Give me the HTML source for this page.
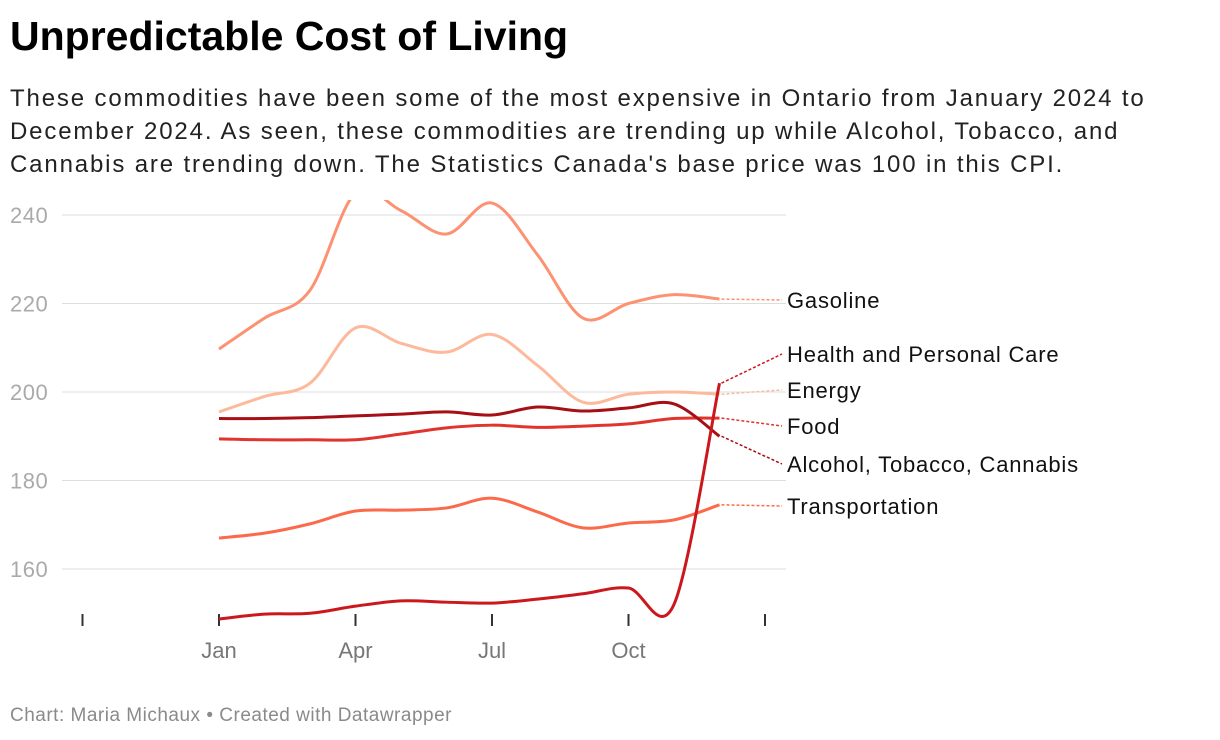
<!DOCTYPE html>
<html><head><meta charset="utf-8">
<style>
body{margin:0;background:#fff;width:1220px;height:740px;overflow:hidden;font-family:"Liberation Sans",sans-serif;}
h1{position:absolute;left:10px;top:13px;margin:0;font-size:41px;font-weight:bold;color:#000;letter-spacing:0px}
p.sub{position:absolute;left:10px;top:82px;margin:0;font-size:24px;line-height:33px;color:#222;width:1180px;letter-spacing:1.85px}
.foot{position:absolute;left:10px;top:705px;font-size:19px;color:#8a8a8a;letter-spacing:0.5px}
svg{position:absolute;left:0;top:0}
</style></head><body>
<h1>Unpredictable Cost of Living</h1>
<p class="sub">These commodities have been some of the most expensive in Ontario from January 2024 to December 2024. As seen, these commodities are trending up while Alcohol, Tobacco, and Cannabis are trending down. The Statistics Canada's base price was 100 in this CPI.</p>
<svg id="chart" width="1220" height="740"></svg>
<div class="foot">Chart: Maria Michaux • Created with Datawrapper</div>
<script>
const months = ["Jan","Feb","Mar","Apr","May","Jun","Jul","Aug","Sep","Oct","Nov","Dec"];
const yTicks = [160,180,200,220,240];
const xTickLabels = ["Jan","Apr","Jul","Oct"];
const gasoline = [209.7,216.7,223,245,241,235.7,242.7,231,216.7,220,222,221];
const energy = [195.5,199,202,214.5,211,209,213,206,197.7,199.5,200,199.5];
const alcohol = [194,194,194.2,194.6,195,195.5,194.8,196.6,195.7,196.4,197.3,190];
const food = [189.4,189.2,189.2,189.2,190.5,191.9,192.5,192,192.3,192.8,194,194.1];
const transportation = [167,168.1,170.2,173.1,173.3,173.8,176,172.9,169.3,170.4,171.1,174.5];
const health = [148.7,149.8,150,151.6,152.8,152.5,152.3,153.2,154.4,155.7,152,202];
const seriesNames = ["Gasoline","Health and Personal Care","Energy","Food","Alcohol, Tobacco, Cannabis","Transportation"];

const ns="http://www.w3.org/2000/svg";
const svg=document.getElementById('chart');
const x=i=>219+i*45.5;
const y=v=>215+(240-v)*4.425;
function mk(t,a){const e=document.createElementNS(ns,t);for(const k in a)e.setAttribute(k,a[k]);svg.appendChild(e);return e;}
const defs=mk('defs',{});
const cp=document.createElementNS(ns,'clipPath');cp.setAttribute('id','clip');defs.appendChild(cp);
const cr=document.createElementNS(ns,'rect');cr.setAttribute('x',0);cr.setAttribute('y',200);cr.setAttribute('width',1220);cr.setAttribute('height',425);cp.appendChild(cr);
yTicks.forEach(v=>{
  const g=mk('line',{x1:62,x2:786,y1:y(v),y2:y(v),stroke:'#ddd','stroke-width':1});
  
  const t=mk('text',{x:10,y:y(v)+8,'font-size':22,fill:'#aaa','letter-spacing':'0.5'});t.textContent=v;
  
});
[-3,12].forEach(i=>{const l=mk('line',{x1:x(i),x2:x(i),y1:614,y2:626,stroke:'#333','stroke-width':2});
  });
xTickLabels.forEach(m=>{const i=months.indexOf(m);
  const l=mk('line',{x1:x(i),x2:x(i),y1:614,y2:626,stroke:'#333','stroke-width':2});
  
  const t=mk('text',{x:x(i),y:658,'font-size':22,fill:'#777','text-anchor':'middle'});t.textContent=m;
  });
function path(vals){
  const p=vals.map((v,i)=>[x(i),y(v)]);let d='M'+p[0][0]+','+p[0][1];
  for(let i=0;i<p.length-1;i++){const p0=p[Math.max(i-1,0)],p1=p[i],p2=p[i+1],p3=p[Math.min(i+2,p.length-1)];
    const c1=[p1[0]+(p2[0]-p0[0])/6,p1[1]+(p2[1]-p0[1])/6],c2=[p2[0]-(p3[0]-p1[0])/6,p2[1]-(p3[1]-p1[1])/6];
    d+=`C${c1[0]},${c1[1]} ${c2[0]},${c2[1]} ${p2[0]},${p2[1]}`;}
  return d;}
const series=[
 [gasoline,'#fc9272',seriesNames[0],300],
 [energy,'#fdb99c',seriesNames[2],390],
 [food,'#e0342d',seriesNames[3],426],
 [transportation,'#fb6a4a',seriesNames[5],506],
 [alcohol,'#a50f15',seriesNames[4],464],
 [health,'#cb181d',seriesNames[1],354]];
series.forEach(([vals,col,name,ly])=>{
  const slug=name.toLowerCase().replace(/[^a-z]+/g,'-');
  const l=mk('path',{d:path(vals),fill:'none',stroke:col,'stroke-width':3,'clip-path':'url(#clip)'});
  
  const last=vals[vals.length-1];
  const c=mk('line',{x1:x(11)+2,y1:y(last),x2:782,y2:ly,stroke:col,'stroke-width':1.5,'stroke-dasharray':'3,2'});
  
  const t=mk('text',{x:787,y:ly+8,'font-size':22,fill:'#111','letter-spacing':'0.8'});t.textContent=name;
  
});
</script>
</body></html>
